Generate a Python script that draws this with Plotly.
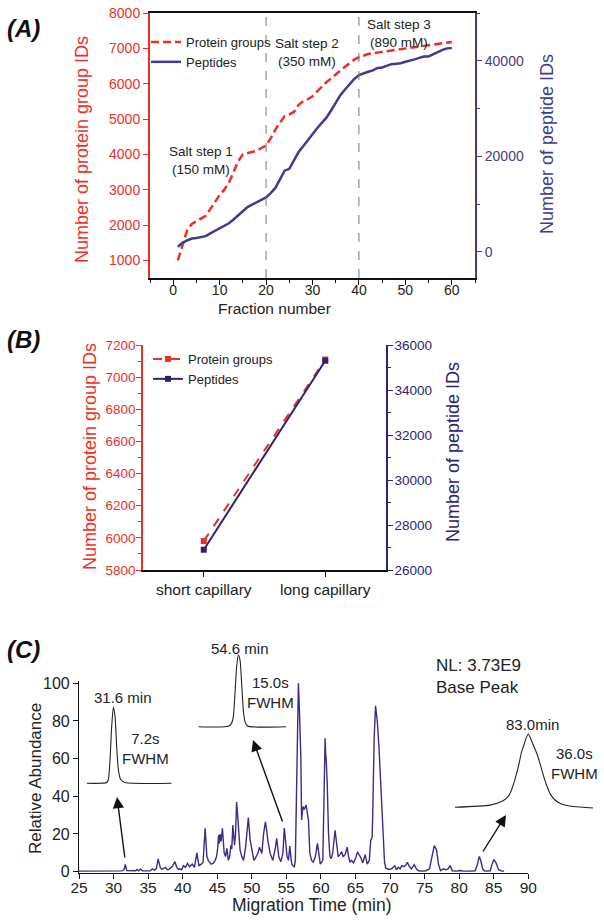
import plotly.graph_objects as go

W, H = 604, 921

# ---------------- data ----------------
fractions = list(range(1, 61))
protein_groups_A = [1000, 1400, 1850, 2030, 2100, 2180, 2260, 2450, 2650, 2850,
                    3000, 3200, 3500, 3800, 4000, 4040, 4070, 4100, 4180, 4250,
                    4450, 4700, 4900, 5080, 5130, 5200, 5400, 5500, 5560, 5640,
                    5780, 5920, 6040, 6150, 6250, 6370, 6480, 6580, 6680, 6750,
                    6800, 6840, 6860, 6890, 6900, 6920, 6940, 6960, 6980, 7000,
                    7020, 7040, 7060, 7080, 7100, 7120, 7140, 7160, 7170, 7180]
peptides_A = [1100, 1900, 2400, 2800, 2900, 3100, 3300, 3900, 4400, 4900,
              5400, 6000, 6800, 7700, 8700, 9400, 9900, 10400, 10900, 11400,
              12300, 13400, 15200, 17000, 17400, 19000, 20900, 22100, 23400, 24800,
              25900, 27000, 28100, 29600, 31200, 32800, 34000, 35200, 36200, 37000,
              37400, 37700, 38000, 38500, 38600, 38900, 39300, 39400, 39500, 39800,
              40000, 40300, 40600, 40900, 40900, 41400, 41900, 42300, 42600, 42700]
salt_boundaries = [20, 40]

capillaries = ["short capillary", "long capillary"]
protein_groups_B = [5980, 7110]
peptides_B = [26900, 35300]

chrom_time = [25.0, 27.0, 29.0, 31.2, 31.5, 31.7, 31.9, 32.5, 33.2, 33.4, 33.6, 33.9, 34.2, 35.3,
              35.6, 35.9, 36.2, 36.45, 36.75, 37.0, 37.2, 37.5, 37.8, 38.0, 38.5, 38.87, 39.15,
              39.4, 39.6, 39.85, 40.1, 40.4, 40.7, 41.0, 41.4, 41.7, 42.05, 42.35, 42.7, 42.95,
              43.25, 43.5, 43.7, 44.1, 44.45, 44.7, 44.9, 45.05, 45.2, 45.3, 45.4, 45.55, 45.75,
              46.0, 46.2, 46.4, 46.6, 46.8, 46.97, 47.1, 47.26, 47.5, 47.65, 47.8, 47.95, 48.07,
              48.3, 48.55, 48.8, 49.1, 49.3, 49.5, 49.75, 50.05, 50.3, 50.5, 50.7, 50.9, 51.1,
              51.45, 51.7, 51.97, 52.15, 52.3, 52.65, 52.85, 53.04, 53.2, 53.4, 53.6, 53.75,
              53.9, 54.2, 54.5, 54.7, 54.96, 55.1, 55.3, 55.5, 55.7, 55.8, 56.0, 56.15, 56.3,
              56.5, 56.65, 56.74, 56.85, 57.0, 57.1, 57.2, 57.4, 57.6, 57.85, 58.0, 58.2, 58.4,
              58.65, 58.9, 59.2, 59.5, 59.7, 59.9, 60.1, 60.27, 60.45, 60.6, 60.7, 60.75, 60.9,
              61.1, 61.3, 61.5, 61.7, 62.05, 62.3, 62.5, 62.75, 63.0, 63.2, 63.5, 63.65, 63.8,
              64.0, 64.2, 64.45, 64.7, 65.0, 65.3, 65.5, 65.7, 66.05, 66.4, 66.7, 67.0, 67.2,
              67.4, 67.5, 67.7, 67.9, 68.05, 68.15, 68.4, 68.55, 68.7, 69.03, 69.2, 69.4, 69.8,
              70.2, 70.5, 70.7, 70.9, 71.2, 71.45, 71.7, 72.0, 72.3, 72.5, 72.8, 73.1, 73.5,
              73.8, 74.1, 74.8, 75.2, 75.7, 76.0, 76.2, 76.4, 76.6, 76.75, 77.0, 77.3, 77.7,
              78.1, 78.4, 78.7, 79.0, 79.6, 80.1, 80.6, 81.5, 82.3, 82.6, 82.9, 83.1, 83.4,
              83.7, 84.5, 84.7, 85.0, 85.3, 85.7, 86.2, 86.5]
chrom_abund = [0.3, 0.4, 0.3, 0.4, 1.0, 3.8, 0.6, 0.4, 0.5, 1.2, 0.4, 1.3, 0.4, 0.4,
               1.5, 0.8, 1.8, 6.8, 2.3, 1.2, 1.6, 2.3, 1.0, 1.2, 2.7, 5.3, 2.3,
               1.2, 1.5, 1.0, 3.2, 2.3, 4.4, 2.7, 4.0, 2.3, 10.0, 3.2, 4.0, 5.0,
               23.0, 8.0, 6.0, 4.0, 4.5, 6.0, 8.0, 12.0, 19.5, 15.0, 20.0, 16.0, 23.0,
               10.0, 8.0, 12.4, 6.0, 8.0, 14.0, 12.0, 24.8, 14.0, 20.0, 37.0, 30.0, 24.0,
               11.5, 8.0, 6.0, 13.0, 20.0, 28.7, 17.0, 10.0, 6.0, 7.0, 8.8, 10.0, 13.0,
               9.7, 20.0, 26.5, 22.0, 17.0, 9.7, 8.0, 6.0, 9.0, 12.4, 17.7, 12.0,
               8.0, 5.3, 9.7, 23.2, 11.0, 8.0, 6.0, 13.6, 6.0, 4.0, 3.0, 2.6, 6.0,
               45.0, 90.0, 100.0, 90.0, 70.0, 60.0, 27.4, 34.5, 33.0, 35.4, 32.0, 27.0, 9.8,
               6.0, 5.0, 8.0, 15.0, 9.0, 4.0, 5.0, 6.2, 40.0, 70.8, 62.0, 60.0, 48.0,
               20.0, 8.0, 7.0, 9.8, 22.0, 14.0, 8.0, 9.0, 10.6, 8.0, 9.0, 11.0, 13.0,
               8.0, 5.0, 6.0, 4.7, 7.0, 10.6, 9.0, 8.0, 4.7, 9.0, 4.0, 6.0, 16.6,
               18.0, 31.0, 71.0, 88.0, 84.0, 80.0, 66.0, 55.0, 39.6, 13.0, 5.0, 1.8, 1.2,
               1.5, 2.3, 3.2, 1.0, 2.3, 1.5, 3.2, 2.7, 3.5, 5.0, 2.7, 1.5, 3.7,
               1.5, 0.5, 0.3, 0.5, 1.5, 6.7, 12.0, 13.8, 12.5, 11.0, 4.0, 0.5, 1.5,
               1.0, 1.5, 3.2, 0.5, 0.3, 0.6, 0.3, 0.3, 0.5, 3.2, 8.1, 6.2, 1.5,
               0.3, 0.5, 3.2, 6.4, 5.0, 1.0, 0.3, 0.3]

# inset peaks (seconds relative to apex, normalised intensity)
inset1_sec = [-33.6, -8.4, -6.3, -4.2, -2.1, 0.0, 2.1, 4.2, 6.3, 9.2, 14.7, 73.5]
inset1_int = [0.0, 0.01, 0.05, 0.31, 0.75, 1.0, 0.88, 0.48, 0.18, 0.05, 0.01, 0.0]
inset2_sec = [-85.7, -21.4, -14.3, -10.7, -7.1, -3.6, 0.0, 3.6, 7.1, 10.7, 14.3, 19.3, 102.0]
inset2_int = [0.0, 0.005, 0.05, 0.14, 0.47, 0.84, 1.0, 0.93, 0.6, 0.23, 0.07, 0.01, 0.0]
inset3_sec = [-111.5, -58.3, -40.6, -30.4, -25.4, -20.3, -15.2, -10.1, -6.6, -3.5, 0.0,
              3.5, 7.6, 12.7, 17.7, 22.8, 27.9, 32.9, 40.6, 50.7, 68.4, 98.9]
inset3_int = [0.0, 0.03, 0.08, 0.15, 0.24, 0.38, 0.55, 0.76, 0.85, 0.94, 1.0,
              0.94, 0.85, 0.74, 0.6, 0.44, 0.3, 0.19, 0.1, 0.045, 0.01, -0.01]

# ---------------- styling ----------------
RED = "#ec2f27"
NAVY = "#3f3c90"
NAVY_B = "#2d2373"
CHROM = "#3b2b8a"
FONT = "Liberation Sans, Arial, sans-serif"


def xd(x0, x1):
    return [x0 / W, x1 / W]


def yd(top, bottom):
    return [1 - bottom / H, 1 - top / H]


fig = go.Figure()

# Panel A
fig.add_trace(go.Scatter(x=fractions, y=protein_groups_A, mode="lines", name="Protein groups",
                         line=dict(color=RED, width=2.5, dash="8px,4px"), xaxis="x", yaxis="y",
                         legend="legend"))
fig.add_trace(go.Scatter(x=fractions, y=peptides_A, mode="lines", name="Peptides",
                         line=dict(color=NAVY, width=2.5), xaxis="x", yaxis="y2",
                         legend="legend"))
# Panel B
fig.add_trace(go.Scatter(x=capillaries, y=protein_groups_B, mode="lines+markers", name="Protein groups",
                         line=dict(color=RED, width=2, dash="dash"),
                         marker=dict(symbol="square", size=6, color=RED),
                         xaxis="x2", yaxis="y3", legend="legend2"))
fig.add_trace(go.Scatter(x=capillaries, y=peptides_B, mode="lines+markers", name="Peptides",
                         line=dict(color=NAVY_B, width=2),
                         marker=dict(symbol="square", size=6, color=NAVY_B),
                         xaxis="x2", yaxis="y4", legend="legend2"))
# Panel C
fig.add_trace(go.Scatter(x=chrom_time, y=chrom_abund, mode="lines", showlegend=False,
                         line=dict(color=CHROM, width=1.4), xaxis="x3", yaxis="y5"))
for i, (sx, sy) in enumerate([(inset1_sec, inset1_int), (inset2_sec, inset2_int), (inset3_sec, inset3_int)]):
    fig.add_trace(go.Scatter(x=sx, y=sy, mode="lines", showlegend=False,
                             line=dict(color="#222222", width=1.1, shape="spline", smoothing=0.6),
                             xaxis="x%d" % (4 + i), yaxis="y%d" % (6 + i)))

tick_common = dict(showgrid=False, zeroline=False, ticks="outside", ticklen=5, tickwidth=1.2,
                   automargin=False)

layout = dict(
    width=W, height=H, margin=dict(l=0, r=0, t=0, b=0, pad=0, autoexpand=False),
    paper_bgcolor="white", plot_bgcolor="white",
    font=dict(family=FONT, color="#222222"),
    # A
    xaxis=dict(domain=xd(150, 475), anchor="y", range=[-5, 65], dtick=10, tick0=0,
               linecolor="#111111", linewidth=1.5, mirror=True, tickcolor="#111111",
               ticklabelstandoff=-7,
               minor=dict(dtick=5, ticks="outside", ticklen=3, tickcolor="#111111"),
               tickfont=dict(size=14, color="#222222"), **tick_common),
    yaxis=dict(domain=yd(13, 278), anchor="x", range=[500, 8000], tickvals=list(range(1000, 8001, 1000)),
               linecolor=RED, linewidth=2, tickcolor=RED, tickfont=dict(size=14, color=RED), **tick_common),
    yaxis2=dict(overlaying="y", side="right", anchor="x", range=[-5450, 50000], dtick=20000, tick0=0,
                tickformat="d",
                linecolor=NAVY, linewidth=2, tickcolor=NAVY, tickfont=dict(size=14, color=NAVY),
                minor=dict(dtick=10000, ticks="outside", ticklen=3, tickcolor=NAVY), **tick_common),
    # B
    xaxis2=dict(domain=xd(143, 386), anchor="y3", range=[-0.5, 1.5], type="category",
                linecolor="#111111", linewidth=1.5, tickcolor="#111111",
                tickfont=dict(size=15.5, color="#222222"), **tick_common),
    yaxis3=dict(domain=yd(345, 570), anchor="x2", range=[5800, 7200], dtick=200, tick0=5800,
                tickformat="d", ticklabelstandoff=-2,
                linecolor=RED, linewidth=1.5, tickcolor=RED, tickfont=dict(size=13.5, color=RED),
                minor=dict(dtick=100, ticks="outside", ticklen=3, tickcolor=RED), **tick_common),
    yaxis4=dict(overlaying="y3", side="right", anchor="x2", range=[26000, 36000], dtick=2000, tick0=26000,
                tickformat="d", ticklabelstandoff=-1,
                linecolor=NAVY_B, linewidth=1.5, tickcolor=NAVY_B, tickfont=dict(size=13.5, color=NAVY_B),
                minor=dict(dtick=1000, ticks="outside", ticklen=3, tickcolor=NAVY_B), **tick_common),
    # C
    xaxis3=dict(domain=xd(79, 528.3), anchor="y5", range=[25, 90], dtick=5, tick0=25,
                linecolor="#111111", linewidth=1.2, tickcolor="#111111",
                ticklabelstandoff=-4,
                tickfont=dict(size=15.5, color="#222222"), **tick_common),
    yaxis5=dict(domain=yd(681.4, 872.6), anchor="x3", range=[-0.5, 101], tickvals=[0, 20, 40, 60, 80, 100],
                linecolor="#111111", linewidth=1.2, tickcolor="#111111",
                tickfont=dict(size=16, color="#222222"), **tick_common),
    legend=dict(x=146 / W, y=1 - 27 / H, xanchor="left", yanchor="top", bgcolor="rgba(0,0,0,0)",
                font=dict(size=13, color="#222222"), itemwidth=30, tracegroupgap=0),
    legend2=dict(x=148 / W, y=1 - 344 / H, xanchor="left", yanchor="top", bgcolor="rgba(0,0,0,0)",
                 font=dict(size=13, color="#222222"), itemwidth=30, tracegroupgap=2),
)

# inset axes (hidden)
insets = [
    (inset1_sec, (86.7, 171.7), (707.3, 783.3)),
    (inset2_sec, (198.3, 286.0), (655.0, 726.7)),
    (inset3_sec, (455.0, 593.3), (734.0, 807.3)),
]
for i, (sx, (x0, x1), (ytop, ybot)) in enumerate(insets):
    pad = (ybot - ytop) * 0.05
    layout["xaxis%d" % (4 + i)] = dict(domain=xd(x0, x1), anchor="y%d" % (6 + i), range=[sx[0], sx[-1]],
                                       visible=False)
    layout["yaxis%d" % (6 + i)] = dict(domain=yd(ytop - pad, ybot + pad), anchor="x%d" % (4 + i),
                                       range=[-0.05, 1.05], visible=False)

fig.update_layout(**layout)

# salt-step boundaries
for b in salt_boundaries:
    fig.add_shape(type="line", xref="x", yref="y domain", x0=b, x1=b, y0=0, y1=1,
                  line=dict(color="#777777", width=1, dash="dash"))


def ann(text, px, py, size, color="#222222", angle=0, xanchor="center", yanchor="middle", align="center"):
    fig.add_annotation(text=text, x=px / W, y=1 - py / H, xref="paper", yref="paper",
                       showarrow=False, textangle=angle, xanchor=xanchor, yanchor=yanchor,
                       align=align, font=dict(size=size, color=color, family=FONT))


# panel labels
ann("<b><i>(A)</i></b>", 5, 28, 24, "#111111", xanchor="left")
ann("<b><i>(B)</i></b>", 5, 340, 24, "#111111", xanchor="left")
ann("<b><i>(C)</i></b>", 5, 649, 24, "#111111", xanchor="left")

# Panel A titles & notes
ann("Number of protein group IDs", 82, 150, 18, RED, angle=-90)
ann("Number of peptide IDs", 547, 144, 18, NAVY, angle=-90)
ann("Fraction number", 274.5, 309, 15.5)
ann("Salt step 1<br>(150 mM)", 201, 161, 13.5)
ann("Salt step 2<br>(350 mM)", 307, 52, 13.5)
ann("Salt step 3<br>(890 mM)", 399, 33, 13.5)

# Panel B titles
ann("Number of protein group IDs", 90, 457, 18, RED, angle=-90)
ann("Number of peptide IDs", 453, 452, 18, NAVY_B, angle=-90)

# Panel C titles & notes
ann("Relative Abundance", 35, 779, 17, angle=-90)
ann("Migration Time (min)", 311, 905, 17.5)
ann("31.6 min", 123, 697, 15)
ann("7.2s<br>FWHM", 145, 748, 15)
ann("54.6 min", 240, 648, 15)
ann("15.0s<br>FWHM", 270, 692, 15)
ann("NL: 3.73E9<br>Base Peak", 434, 676, 17, xanchor="left", align="left")
ann("83.0min", 532, 724, 15)
ann("36.0s<br>FWHM", 574, 763, 15)

# arrows (head position, tail offset in pixels)
for hx, hy, tx, ty in [(117, 797, 125, 859), (253, 740, 283, 823), (506, 815, 482, 853)]:
    fig.add_annotation(x=hx / W, y=1 - hy / H, xref="paper", yref="paper", text="",
                       showarrow=True, ax=tx - hx, ay=ty - hy, axref="pixel", ayref="pixel",
                       arrowhead=2, arrowsize=1.6, arrowwidth=1.4, arrowcolor="#111111")

fig.write_html("out.html", config={"displayModeBar": False},
               post_script="document.body.style.margin='0px';document.body.style.overflow='hidden';")
